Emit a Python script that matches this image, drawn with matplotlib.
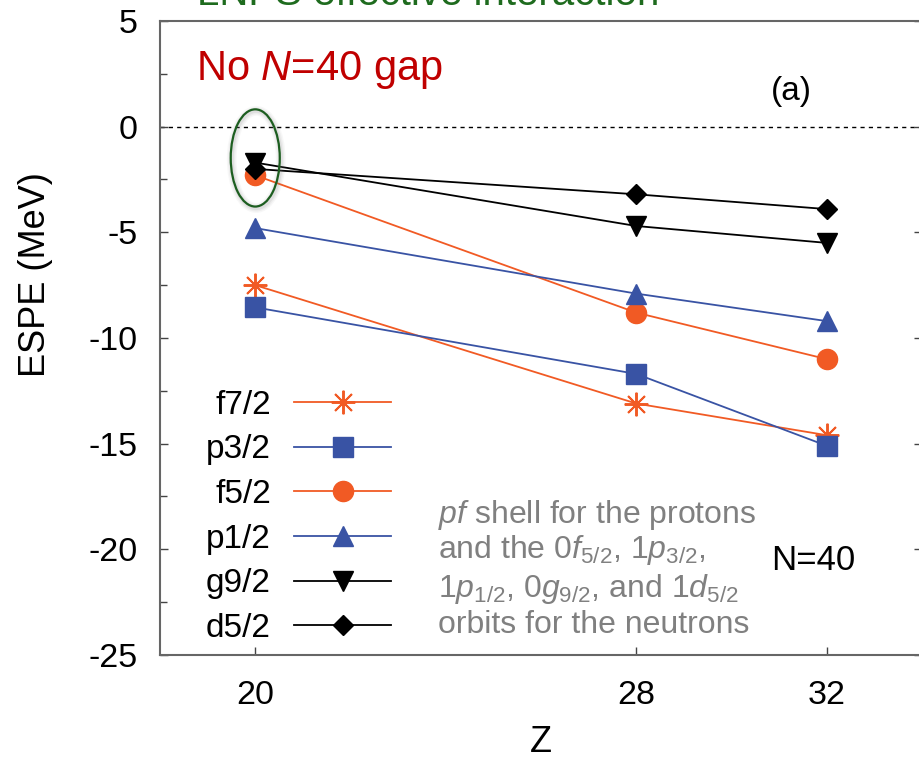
import matplotlib
matplotlib.use("Agg")
import matplotlib.pyplot as plt
from matplotlib.patches import Ellipse

plt.rcParams['font.family'] = ['Liberation Sans', 'DejaVu Sans']
plt.rcParams['mathtext.fontset'] = 'custom'
plt.rcParams['mathtext.rm'] = 'Liberation Sans'
plt.rcParams['mathtext.it'] = 'Liberation Sans:italic'
plt.rcParams['axes.unicode_minus'] = False

# proton number Z and effective single-particle energies (MeV)
z = [20, 28, 32]
f72 = [-7.5, -13.1, -14.6]
p32 = [-8.55, -11.7, -15.1]
f52 = [-2.3, -8.8, -11.0]
p12 = [-4.8, -7.9, -9.2]
g92 = [-1.7, -4.7, -5.5]
d52 = [-2.0, -3.2, -3.9]

orbit_labels = ['f7/2', 'p3/2', 'f5/2', 'p1/2', 'g9/2', 'd5/2']

orange = '#f15a24'
blue = '#3953a4'

fig = plt.figure(figsize=(9.19, 7.63), dpi=100)
ax = fig.add_axes([160 / 919, 108 / 763, 762 / 919, 634 / 763])

ax.axhline(0, color='black', lw=1, ls=(0, (3, 3)), zorder=1)

lw = 1.3
ax.plot(z, f72, color=orange, lw=lw, marker=(8, 2, 0), ms=17, mew=1.4,
        label=orbit_labels[0])
ax.plot(z, p32, color=blue, lw=lw, marker='s', ms=15, mec=blue, mfc=blue,
        label=orbit_labels[1])
ax.plot(z, f52, color=orange, lw=lw, marker='o', ms=14.5, mec=orange,
        label=orbit_labels[2])
ax.plot(z, p12, color=blue, lw=lw, marker='^', ms=14, label=orbit_labels[3])
ax.plot(z, g92, color='black', lw=lw, marker='v', ms=14, label=orbit_labels[4])
ax.plot(z, d52, color='black', lw=lw, marker='D', ms=10, label=orbit_labels[5])

# highlighted group at Z=20 with a soft shadow
for k, a in [(7, 0.06), (5, 0.08), (3, 0.12)]:
    ax.add_patch(Ellipse((20.02, -1.55), 1.03, 4.6, fill=False,
                         edgecolor='gray', lw=k, alpha=a, zorder=4))
ax.add_patch(Ellipse((20, -1.48), 1.03, 4.6, fill=False,
                     edgecolor='#1d5e20', lw=1.6, zorder=5))

ax.set_xlim(18, 34)
ax.set_ylim(-25, 5)
ax.set_xticks(z)
ax.set_yticks(range(-25, 6, 5))
ax.set_yticks([-22.5, -17.5, -12.5, -7.5, -2.5, 2.5], minor=True)

for s in ax.spines.values():
    s.set_color('#666666')
    s.set_linewidth(1.5)

ax.tick_params(axis='both', which='major', direction='in', length=6,
               width=1, color='#444444', labelsize=24.5)
ax.tick_params(axis='y', which='major', right=True, pad=16)
ax.tick_params(axis='y', which='minor', direction='in', length=5,
               width=1, color='#444444')
ax.tick_params(axis='x', which='major', pad=18)

ax.set_xlabel('Z', fontsize=26, labelpad=10)
ax.set_ylabel('ESPE (MeV)', fontsize=26)
ax.yaxis.set_label_coords(-0.14, 0.6)

leg = ax.legend(loc='center right', bbox_to_anchor=(0.303, 0.218),
                markerfirst=False, frameon=False, fontsize=24,
                handlelength=2.9, handletextpad=0.7, labelspacing=0.41,
                borderpad=0, borderaxespad=0)

ax.text(18.76, 2.21, r'No $\mathit{N}$=$\mathit{40}$ gap', color='#c00000',
        fontsize=30, va='baseline')
ax.text(31.25, 1.26, '(a)', fontsize=24, ha='center', va='baseline')
ax.text(30.83, -21.0, 'N=40', fontsize=25, va='baseline')

gray = '#808080'
notes = ['$pf$ shell for the protons',
         'and the 0$f_{5/2}$, 1$p_{3/2}$,',
         '1$p_{1/2}$, 0$g_{9/2}$, and 1$d_{5/2}$',
         'orbits for the neutrons']
note_y = [-18.76, -20.41, -22.25, -23.96]
for line, yy in zip(notes, note_y):
    ax.text(23.84, yy, line, color=gray, fontsize=23, va='baseline')

fig.text(197 / 919, 1 - 5 / 763, 'LNPS effective interaction',
         color='#1e6b1e', fontsize=29, va='baseline')

fig.savefig('out.png', dpi=100)
